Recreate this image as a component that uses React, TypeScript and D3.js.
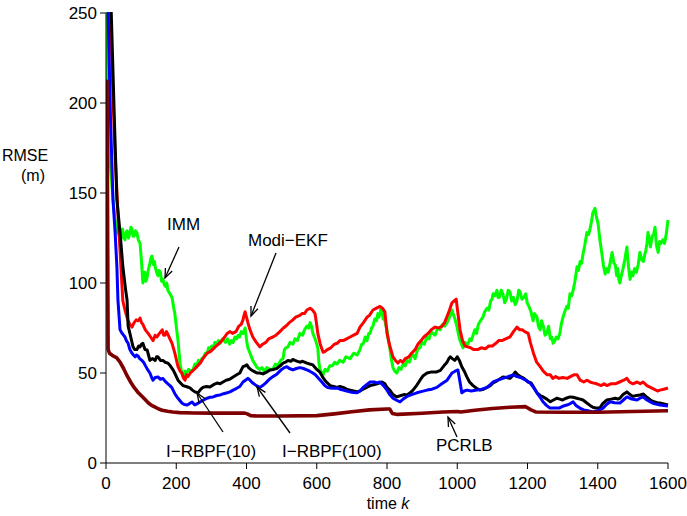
import React from "react";
import * as d3 from "d3";

const xTicks = [0, 200, 400, 600, 800, 1000, 1200, 1400, 1600];
const yTicks = [0, 50, 100, 150, 200, 250];

const imm: [number, number][] = [
  [0, 300], [3, 215], [10, 172], [20, 146], [26, 135], [33, 128], [40, 126], [44, 129], [47, 130], [50, 125], [54, 124], [57, 128],
  [60, 129], [64, 125], [67, 127], [71, 131], [74, 130], [77, 126], [80, 126], [84, 129], [88, 128], [92, 124], [97, 122],
  [101, 112], [105, 100], [108, 104], [110, 106], [114, 101], [117, 103], [120, 107], [124, 110], [128, 114], [131, 115],
  [134, 111], [136, 110], [138, 112], [140, 109], [144, 106], [148, 104], [151, 107], [155, 106], [158, 101], [162, 102],
  [166, 99], [170, 98], [173, 100], [176, 96], [182, 94], [188, 92], [193, 86], [196, 83], [200, 76], [205, 68], [211, 55],
  [216, 50], [219, 48], [225, 51], [230, 50], [235, 52], [240, 51], [248, 52], [253, 55], [258, 54], [263, 57], [268, 55.5],
  [273, 58], [278, 59], [283, 61], [288, 61], [292, 64], [296, 63], [301, 65], [305, 64], [310, 67], [315, 66], [320, 68],
  [325, 66.5], [332, 69], [340, 67], [346, 69], [352, 66], [357, 68], [362, 67], [367, 70], [372, 69], [376, 71], [380, 70],
  [385, 73], [390, 72], [396, 75], [401, 67], [404, 64], [410, 61], [418, 57], [424, 55], [430, 53], [438, 52], [444, 53],
  [450, 51], [458, 53], [467, 52], [475, 52], [482, 55], [490, 54], [497, 57], [504, 58], [508, 63], [512, 64], [518, 64.5],
  [524, 67], [532, 66], [538, 69], [545, 68], [552, 72], [560, 71], [565, 74], [572, 76], [577, 75], [581, 78], [585, 76],
  [589, 72], [593, 70], [597, 68], [603, 64], [606, 56], [609, 52], [618, 49], [624, 52], [630, 51], [637, 54], [645, 54],
  [651, 56], [658, 55], [665, 57], [675, 56], [683, 59], [695, 58], [705, 61], [715, 60], [723, 63], [728, 66], [732, 66],
  [738, 70], [743, 68], [748, 72], [752, 72], [756, 75], [760, 76], [765, 80], [770, 79], [774, 83], [777, 81], [780, 83],
  [783, 86], [786, 85], [789, 80], [792, 81], [796, 77], [800, 74], [804, 68], [808, 64], [812, 58], [817, 53], [822, 51],
  [828, 50], [834, 53], [840, 52], [846, 55], [852, 54], [857, 57], [864, 56], [870, 60], [875, 60], [880, 58], [887, 63],
  [894, 64], [900, 67], [906, 66], [914, 70], [920, 69], [925, 73], [930, 72], [937, 71], [944, 75], [951, 74], [958, 77],
  [964, 76], [971, 78], [976, 80], [980, 82], [985, 85], [988, 83], [990, 82], [995, 79], [1000, 75], [1004, 71],
  [1008, 68], [1012, 66], [1016, 64], [1022, 67], [1030, 66], [1036, 69], [1040, 68], [1045, 71], [1050, 74], [1055, 72],
  [1060, 77], [1066, 79], [1073, 81], [1078, 84], [1085, 86], [1090, 85], [1095, 90], [1099, 91], [1102, 94], [1107, 93],
  [1113, 96], [1116, 92], [1120, 92], [1125, 96], [1130, 94], [1135, 89], [1140, 91], [1145, 96], [1150, 95], [1155, 90],
  [1160, 92], [1165, 88], [1170, 90], [1175, 96], [1179, 95], [1184, 91], [1190, 92], [1195, 94], [1199, 89], [1204, 87],
  [1210, 84], [1216, 79], [1220, 83], [1227, 81], [1231, 76], [1236, 74], [1240, 79], [1245, 76], [1250, 71], [1255, 72],
  [1260, 76], [1265, 69], [1269, 70], [1273, 66.5], [1278, 68], [1282, 70], [1287, 69], [1292, 72], [1296, 77], [1301, 81],
  [1306, 84], [1312, 87], [1316, 86], [1321, 94], [1326, 93], [1330, 96], [1335, 101], [1341, 109], [1345, 107], [1350, 112],
  [1354, 111], [1358, 116], [1363, 121], [1369, 128], [1374, 127], [1378, 130], [1382, 134], [1386, 139], [1392, 141.5],
  [1396, 137], [1401, 133], [1406, 124], [1412, 116], [1416, 110], [1421, 105], [1426, 108], [1430, 106], [1436, 112],
  [1441, 117], [1446, 111], [1450, 110], [1454, 104], [1457, 108], [1460, 102], [1463, 100], [1467, 104], [1472, 108],
  [1477, 113], [1483, 120], [1487, 110], [1492, 102], [1496, 106], [1500, 104], [1505, 108], [1510, 106], [1515, 110],
  [1520, 117], [1525, 113], [1530, 112], [1534, 116], [1537, 118], [1540, 122], [1543, 128], [1547, 124], [1550, 120],
  [1555, 126], [1559, 127], [1563, 131], [1567, 121], [1572, 117], [1576, 123], [1580, 122], [1585, 124], [1590, 122],
  [1595, 127], [1600, 135],
];

const modiEkf: [number, number][] = [
  [0, 320], [12, 250], [25, 175], [35, 135], [40, 118], [45, 100], [48, 90], [54, 85], [62, 79.5], [68, 77], [74, 75.5],
  [80, 78], [86, 79.5], [92, 79], [97, 80.5], [101, 78], [105, 77], [112, 74], [120, 72], [127, 70], [134, 68], [140, 71],
  [145, 70], [152, 72], [160, 74], [164, 71], [168, 71], [172, 73], [175, 72], [182, 69], [188, 66.5], [196, 61], [205, 53.5],
  [211, 51], [216, 50], [221, 47], [225, 46], [229, 49], [233, 48], [240, 50], [248, 51.5], [256, 53], [268, 55.5], [276, 58],
  [288, 61], [298, 62], [311, 64.5], [320, 66], [330, 68], [338, 70], [345, 72], [353, 73], [360, 72], [370, 73], [378, 76],
  [385, 77], [390, 79.5], [393, 82], [396, 84], [400, 81], [404, 78], [410, 74], [418, 70], [428, 67], [438, 64.5], [446, 66],
  [455, 67], [463, 69], [475, 70], [484, 71], [495, 73], [505, 75], [515, 76.5], [522, 78], [532, 79.5], [540, 81], [552, 82],
  [558, 83], [565, 83], [572, 85], [581, 86], [588, 85], [595, 83], [599, 78], [603, 72], [610, 66], [618, 61.5], [624, 62],
  [630, 63], [640, 64], [650, 66], [658, 66.5], [666, 68], [675, 68], [685, 69], [695, 70], [705, 71], [715, 72], [723, 75.5],
  [733, 78], [743, 81], [750, 82], [760, 85], [770, 86], [780, 87], [787, 86], [794, 84], [797, 78], [800, 72], [808, 65],
  [817, 59], [824, 57], [831, 55.5], [838, 57], [845, 56], [852, 58], [862, 59], [870, 61], [880, 63], [888, 66], [897, 68],
  [905, 70], [917, 72], [926, 74], [937, 75.5], [947, 75], [957, 76], [964, 78], [970, 81], [978, 85], [985, 89], [991, 90],
  [997, 91], [1000, 86], [1004, 80], [1008, 74], [1015, 68], [1022, 65], [1030, 64.5], [1038, 64], [1046, 63], [1058, 63],
  [1068, 64], [1080, 63.5], [1090, 65], [1100, 65], [1110, 66.5], [1118, 68], [1127, 68], [1138, 69], [1150, 70], [1160, 73],
  [1170, 75.5], [1178, 74], [1185, 74], [1192, 73], [1202, 72], [1208, 67], [1217, 61], [1226, 56], [1236, 53.5], [1245, 51],
  [1256, 49], [1265, 49], [1272, 47], [1280, 48], [1290, 47], [1300, 47.5], [1313, 47], [1322, 48], [1332, 49], [1341, 49],
  [1350, 46], [1360, 45], [1370, 46], [1378, 45], [1386, 44.5], [1397, 44], [1410, 43], [1418, 44], [1426, 43], [1437, 44],
  [1450, 44], [1462, 45], [1474, 46], [1483, 47], [1490, 45], [1500, 44], [1512, 45], [1521, 44], [1529, 45], [1540, 43],
  [1550, 42], [1560, 41], [1570, 40], [1577, 40.5], [1588, 41], [1600, 41.7],
];

const rbpf10: [number, number][] = [
  [0, 330], [15, 250], [24, 190], [31, 146], [40, 128], [48, 109], [56, 96], [60, 90.5], [63, 76], [68, 72], [77, 64.5],
  [82, 63], [88, 63], [93, 65], [97, 64.5], [101, 66], [105, 66.5], [111, 63], [117, 62.8], [121, 60], [125, 57], [132, 58],
  [140, 57], [144, 59], [148, 59], [155, 57], [162, 57], [168, 56], [176, 55.5], [183, 54], [191, 51.7], [198, 49], [205, 46],
  [212, 44.5], [219, 43], [228, 42.5], [239, 41.7], [246, 40.5], [253, 39.5], [262, 39], [270, 41], [276, 42], [286, 42.5],
  [296, 42.2], [306, 43.5], [316, 44.4], [325, 44], [333, 45], [342, 46], [352, 46.5], [362, 47.8], [372, 49], [381, 50],
  [386, 52], [390, 53.5], [396, 54], [401, 54.5], [406, 53], [412, 52], [420, 51], [430, 50], [438, 50], [447, 49.5],
  [457, 50.5], [467, 51.7], [477, 52], [486, 52.5], [496, 54], [504, 55.5], [511, 56], [518, 57], [526, 56.5], [532, 57.5],
  [538, 57], [545, 56.5], [552, 56], [560, 56.5], [572, 55.5], [580, 55], [589, 54.5], [600, 52], [609, 50.5], [616, 48],
  [623, 46], [630, 44.5], [638, 43], [648, 42.5], [658, 42], [666, 42.5], [675, 42], [685, 41], [695, 40.5], [705, 40],
  [715, 39.5], [723, 40], [732, 41], [742, 42], [752, 43], [762, 43.5], [772, 44], [786, 45], [794, 44], [800, 42], [808, 40.5],
  [817, 38], [828, 36.7], [840, 37.5], [848, 38], [857, 37.8], [866, 39], [874, 40.5], [884, 43], [894, 46], [903, 48.5],
  [914, 50], [925, 50.5], [940, 50.5], [952, 51.5], [962, 54], [971, 56], [976, 58], [980, 59], [986, 58], [993, 57],
  [1000, 59], [1006, 57], [1013, 53.5], [1020, 51], [1027, 48], [1035, 45], [1045, 43], [1055, 41.5], [1065, 40.5],
  [1075, 41], [1085, 42], [1094, 43], [1102, 44.5], [1112, 45.5], [1120, 46.5], [1130, 47.8], [1140, 47.5], [1150, 47],
  [1158, 48.5], [1165, 50.5], [1172, 49], [1180, 48], [1190, 47], [1202, 45], [1210, 44.5], [1218, 42], [1227, 39],
  [1236, 37.5], [1245, 36.7], [1255, 35.5], [1265, 34], [1274, 35], [1284, 36], [1292, 35.5], [1300, 35], [1310, 36],
  [1321, 36.7], [1330, 36.5], [1340, 36], [1350, 35.5], [1358, 35], [1368, 33.5], [1378, 32], [1386, 31], [1396, 30.5],
  [1406, 30.5], [1414, 33], [1426, 35], [1438, 35.5], [1450, 36], [1458, 35.5], [1463, 36], [1472, 38], [1483, 39.5],
  [1492, 38], [1500, 37], [1510, 37.5], [1520, 37.8], [1530, 38.3], [1540, 36.5], [1550, 35], [1560, 34], [1570, 33.5],
  [1577, 33.3], [1588, 32.8], [1600, 32.2],
];

const rbpf100: [number, number][] = [
  [0, 320], [6, 250], [13, 190], [20, 146], [26, 128], [31, 109], [34, 90.5], [40, 74], [46, 72], [54, 70], [58, 68],
  [63, 66.5], [68, 63], [74, 61], [78, 60], [83, 59], [87, 60], [91, 59.5], [96, 58], [102, 57], [107, 56], [111, 54.5],
  [118, 52], [125, 50], [130, 47.5], [134, 46], [140, 47.5], [148, 47.8], [155, 46.5], [162, 47], [168, 45.5], [174, 44.4],
  [182, 43], [187, 42], [191, 40.5], [196, 38.5], [202, 36.7], [209, 35], [216, 33.3], [223, 32.5], [231, 32.2], [238, 33],
  [245, 33.9], [249, 33], [253, 32.2], [260, 33], [268, 33.9], [278, 35], [288, 36], [296, 36.5], [305, 36.7], [315, 37.5],
  [325, 37.8], [335, 38.5], [345, 39], [353, 39.5], [362, 40.5], [372, 41.5], [381, 42.5], [390, 45], [397, 46], [404, 47],
  [410, 46], [418, 44.4], [428, 43], [438, 42], [446, 43], [455, 44.5], [465, 46.5], [475, 48], [484, 49], [492, 50.5],
  [500, 52], [508, 53], [515, 53.5], [522, 52.5], [532, 51.7], [542, 52.5], [552, 53], [562, 52.5], [572, 51.7], [580, 51],
  [589, 50], [596, 49], [603, 47.5], [612, 45.5], [623, 43], [630, 42], [638, 41.7], [648, 41.5], [658, 41.7], [666, 41],
  [675, 40.5], [685, 40], [695, 39.5], [705, 39.2], [715, 39], [723, 40], [732, 42], [742, 43.5], [752, 45], [764, 45],
  [772, 44.5], [780, 45], [790, 43], [800, 40.5], [808, 38], [817, 36], [826, 35], [837, 34], [846, 35.5], [857, 37],
  [870, 38], [885, 39], [900, 39.8], [914, 40.5], [928, 41], [942, 42], [956, 44], [971, 46], [978, 48], [985, 50],
  [994, 51], [1002, 51.7], [1007, 46], [1013, 39], [1020, 40], [1028, 40.5], [1040, 40], [1056, 40.5], [1070, 41],
  [1085, 42], [1094, 43.5], [1102, 45], [1115, 46], [1130, 47], [1145, 48], [1159, 49], [1170, 48], [1180, 47.5],
  [1195, 46], [1207, 44.5], [1217, 42], [1227, 39], [1236, 36.5], [1244, 34], [1254, 32], [1264, 30.5], [1276, 30.5],
  [1290, 30.5], [1300, 31.5], [1312, 32.2], [1322, 33], [1330, 34], [1338, 32], [1349, 30.5], [1360, 29.5], [1372, 29],
  [1386, 28.3], [1400, 29], [1415, 30.5], [1425, 32.5], [1435, 34], [1448, 33.5], [1463, 33.3], [1473, 35], [1483, 36.7],
  [1497, 35.5], [1512, 35], [1520, 36], [1529, 36.7], [1540, 35], [1549, 34], [1560, 33], [1577, 32.2], [1588, 32],
  [1600, 31.7],
];

const pcrlb: [number, number][] = [
  [0, 212], [3, 212], [6, 63], [10, 61], [20, 59.5], [30, 58.5], [40, 56], [50, 52.5], [60, 48.5], [70, 45], [80, 42],
  [90, 39.5], [100, 37.5], [110, 35.5], [120, 33.5], [130, 32], [140, 31], [150, 30], [160, 29.3], [175, 28.7], [190, 28.3],
  [210, 28], [250, 27.8], [300, 27.7], [350, 27.7], [395, 27.7], [402, 27.3], [412, 26.3], [430, 26.1], [500, 26.1],
  [600, 26.3], [650, 27.3], [700, 28.5], [750, 29.5], [800, 30], [808, 30], [815, 27.5], [830, 27], [900, 27.6],
  [960, 28.3], [1000, 28.6], [1010, 28.3], [1050, 29.3], [1100, 30.3], [1150, 31], [1195, 31.3], [1210, 29.5],
  [1225, 28.3], [1300, 28.2], [1400, 28.2], [1500, 28.6], [1600, 29],
];

const W = 687;
const H = 516;

function Arrow({ x1, y1, x2, y2 }: { x1: number; y1: number; x2: number; y2: number }) {
  const ang = Math.atan2(y2 - y1, x2 - x1);
  const len = 10;
  const spread = 0.38;
  const ax = x2 - len * Math.cos(ang - spread);
  const ay = y2 - len * Math.sin(ang - spread);
  const bx = x2 - len * Math.cos(ang + spread);
  const by = y2 - len * Math.sin(ang + spread);
  return (
    <g stroke="#000" strokeWidth={1.3} fill="none">
      <line x1={x1} y1={y1} x2={x2} y2={y2} />
      <polyline points={`${ax},${ay} ${x2},${y2} ${bx},${by}`} />
    </g>
  );
}

export default function App() {
  const x = d3.scaleLinear().domain([0, 1600]).range([106, 668]);
  const y = d3.scaleLinear().domain([0, 250]).range([463, 13]);
  const line = d3
    .line<[number, number]>()
    .x((d) => x(d[0]))
    .y((d) => y(d[1]));
  const font = "'Liberation Sans', Arial, Helvetica, sans-serif";

  const series = [
    { data: imm, color: "#00ff00", w: 3 },
    { data: modiEkf, color: "#ff0000", w: 3 },
    { data: rbpf10, color: "#000000", w: 3 },
    { data: rbpf100, color: "#0000ff", w: 3 },
    { data: pcrlb, color: "#7f0000", w: 3.6 },
  ];

  return (
    <svg width={W} height={H} style={{ position: "absolute", left: 0, top: 0, background: "#fff" }} fontFamily={font}>
      <defs>
        <clipPath id="plot">
          <rect x={106} y={12} width={565} height={452} />
        </clipPath>
      </defs>
      <g clipPath="url(#plot)">
        {series.map((s, i) => (
          <path key={i} d={line(s.data) || ""} fill="none" stroke={s.color} strokeWidth={s.w} strokeLinejoin="round" />
        ))}
      </g>
      <line x1={106} y1={13} x2={106} y2={463} stroke="#000" strokeWidth={1} />
      <line x1={106} y1={463} x2={668} y2={463} stroke="#000" strokeWidth={1} />
      {yTicks.map((t) => (
        <g key={"y" + t}>
          <line x1={100} x2={106} y1={y(t)} y2={y(t)} stroke="#000" />
          <text x={97} y={y(t) + 6} fontSize={17} textAnchor="end" fill="#000">
            {t}
          </text>
        </g>
      ))}
      {xTicks.map((t) => (
        <g key={"x" + t}>
          <line x1={x(t)} x2={x(t)} y1={463} y2={469} stroke="#000" />
          <text x={x(t)} y={489} fontSize={17} textAnchor="middle" fill="#000">
            {t}
          </text>
        </g>
      ))}
      <text x={388} y={509} fontSize={16} textAnchor="middle" fill="#000">
        time <tspan fontStyle="italic">k</tspan>
      </text>
      <text x={25} y={161} fontSize={16} textAnchor="middle" fill="#000">RMSE</text>
      <text x={33} y={181} fontSize={16} textAnchor="middle" fill="#000">(m)</text>

      <text x={167} y={230} fontSize={17} fill="#000">IMM</text>
      <Arrow x1={179} y1={247} x2={165} y2={278} />
      <text x={248} y={246} fontSize={17} fill="#000">Modi−EKF</text>
      <Arrow x1={276} y1={253} x2={251} y2={316} />
      <text x={166} y={457} fontSize={17} fill="#000">I−RBPF(10)</text>
      <Arrow x1={223} y1={432} x2={197} y2={393} />
      <text x={282} y={457} fontSize={17} fill="#000">I−RBPF(100)</text>
      <Arrow x1={290} y1={433} x2={257} y2={387} />
      <text x={436} y={451} fontSize={17} fill="#000">PCRLB</text>
      <Arrow x1={457} y1={437} x2={448} y2={417} />
    </svg>
  );
}
